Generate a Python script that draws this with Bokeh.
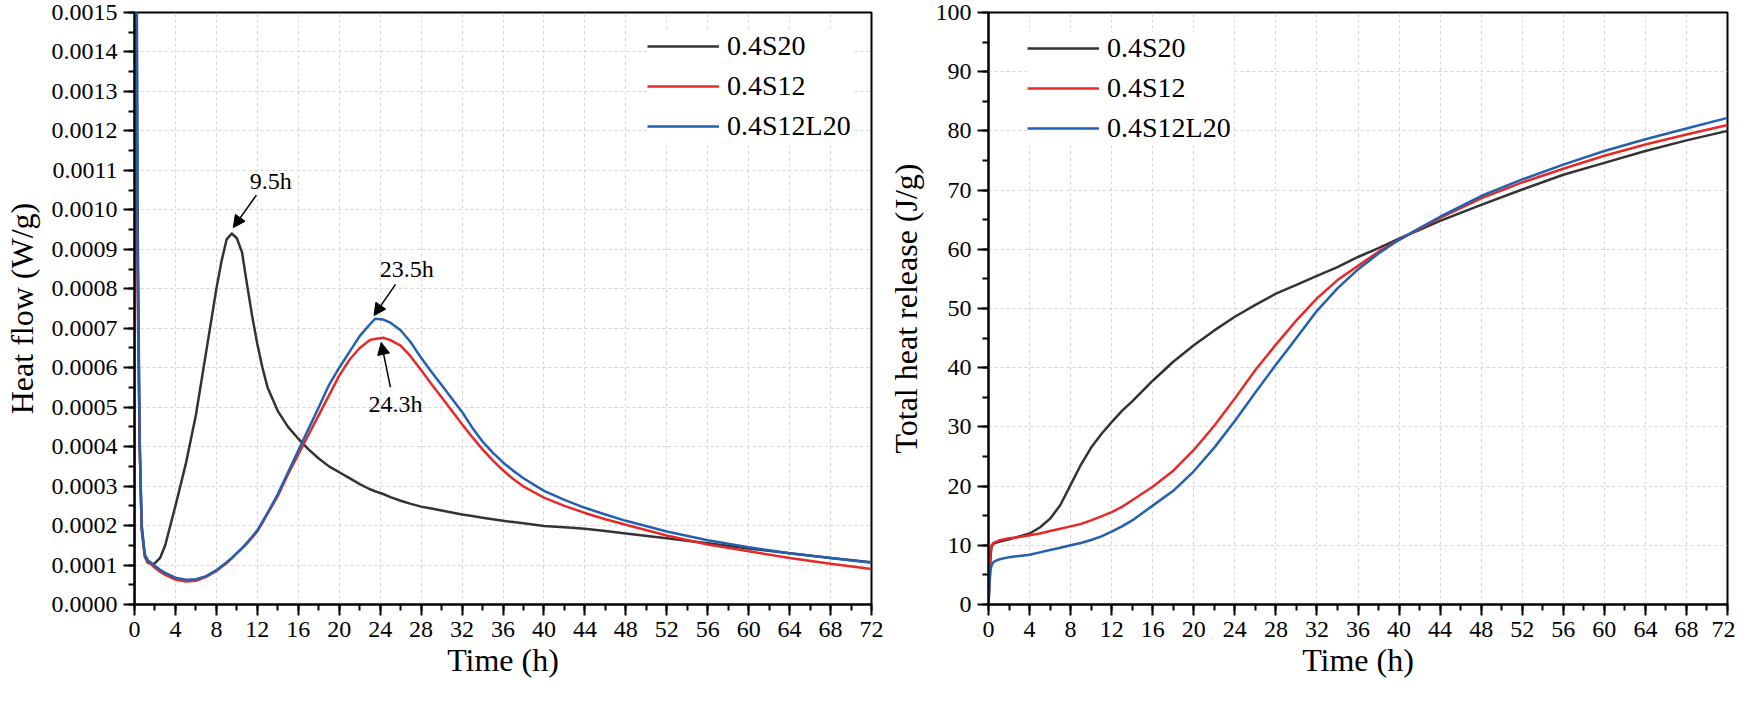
from bokeh.plotting import figure
from bokeh.layouts import row
from bokeh.models import (Range1d, SingleIntervalTicker, NumeralTickFormatter, Legend,
                          LegendItem, Arrow, NormalHead, Label)
from bokeh.embed import file_html
from bokeh.resources import INLINE

# ---------------- data ----------------
series_names = ["0.4S20", "0.4S12", "0.4S12L20"]
series_colors = ["#333333", "#e62a2a", "#2360b0"]

# Heat flow (W/g) vs time (h)
t_hf = [0, 0.05, 0.15, 0.3, 0.5, 0.7,
        1.0, 1.3, 1.9, 2.5, 3,
        4, 5, 6, 7, 8,
        8.5, 9, 9.5, 10, 10.5,
        11, 11.5, 12, 12.5, 13,
        14, 15, 16, 17, 18,
        19, 20, 21, 22, 23,
        23.5, 24.3, 25, 26, 27,
        28, 29, 30, 31, 32,
        33, 34, 35, 36, 37,
        38, 40, 42, 44, 46,
        48, 52, 56, 60, 64,
        68, 72]
hf_s20 = [0, 0.0030, 0.0021, 0.0010, 0.00042, 0.00019,
          0.000122, 0.000106, 0.000102, 0.000118, 0.00015,
          0.00025, 0.000355, 0.00048, 0.00064, 0.0008,
          0.00087, 0.000925, 0.00094, 0.000928, 0.000893,
          0.00081, 0.00073, 0.00066, 0.0006, 0.00055,
          0.00049, 0.00045, 0.00042, 0.000393, 0.00037,
          0.00035, 0.000335, 0.00032, 0.000305, 0.000292,
          0.000287, 0.00028, 0.000272, 0.000263, 0.000255,
          0.000248, 0.000243, 0.000238, 0.000233, 0.000228,
          0.000224, 0.00022, 0.000216, 0.000212, 0.000209,
          0.000206, 0.000199, 0.000196, 0.000192, 0.000186,
          0.00018, 0.000168, 0.000155, 0.000142, 0.00013,
          0.000118, 0.000107]
hf_s12 = [0, 0.0016, 0.00137, 0.0008, 0.0004, 0.0002,
          0.000125, 0.00011, 0.000095, 0.000083, 0.000075,
          0.000063, 0.000058, 0.00006, 0.00007, 0.000085,
          0.000095, 0.000105, 0.000117, 0.00013, 0.000142,
          0.000155, 0.00017, 0.000185, 0.000207, 0.00023,
          0.000275, 0.00033, 0.00038, 0.00043, 0.00048,
          0.00053, 0.00058, 0.00062, 0.00065, 0.00067,
          0.000673, 0.000676, 0.00067, 0.000656, 0.000628,
          0.000594, 0.000559, 0.000525, 0.000491, 0.000457,
          0.000424, 0.000393, 0.000365, 0.00034, 0.000318,
          0.000299, 0.000271, 0.00025, 0.000232, 0.000216,
          0.000202, 0.000175, 0.000152, 0.000135, 0.000118,
          0.000103, 0.00009]
hf_s12l20 = [0, 0.003, 0.0019, 0.0009, 0.00042, 0.0002,
             0.000128, 0.000112, 0.0001, 0.000088, 0.00008,
             0.000068, 0.000063, 0.000064, 0.000072, 0.000087,
             0.000097, 0.000107, 0.000118, 0.00013, 0.000143,
             0.000157, 0.000172, 0.000188, 0.00021, 0.000232,
             0.00028, 0.000335, 0.00039, 0.000445, 0.0005,
             0.000556, 0.0006, 0.00064, 0.00068, 0.00071,
             0.000724, 0.000722, 0.000714, 0.000695, 0.000664,
             0.000625, 0.00059, 0.000556, 0.000522, 0.000488,
             0.000448, 0.000413, 0.000385, 0.00036, 0.000339,
             0.00032, 0.000288, 0.000265, 0.000245, 0.000228,
             0.000212, 0.000185, 0.000163, 0.000145, 0.00013,
             0.000118, 0.000106]

# Total heat release (J/g) vs time (h)
t_thr = [0, 0.1, 0.2, 0.3, 0.5, 1, 2, 3, 4, 5, 6, 7, 8, 9, 10, 11, 12, 13, 14, 16, 18, 20, 22,
         24, 26, 28, 30, 32, 34, 36, 38, 40, 42, 44, 48, 52, 56, 60, 64, 68, 72]
thr_s20 = [0, 4, 8, 9.8, 10.3, 10.6, 11.0, 11.5, 12.0, 13.0, 14.5, 16.8, 20.2, 23.6, 26.5, 28.8,
           30.8, 32.7, 34.3, 37.8, 41.0, 43.8, 46.3, 48.6, 50.6, 52.5, 54.0, 55.5, 57.0, 58.7,
           60.2, 61.8, 63.3, 64.8, 67.5, 70.1, 72.6, 74.6, 76.6, 78.4, 80.0]
thr_s12 = [0, 5, 9, 10.0, 10.4, 10.8, 11.2, 11.4, 11.7, 12.0, 12.4, 12.8, 13.2, 13.6, 14.2, 14.9,
           15.6, 16.5, 17.6, 19.9, 22.6, 26.1, 30.2, 34.8, 39.6, 43.9, 48.0, 51.7, 54.8, 57.2,
           59.6, 61.6, 63.5, 65.3, 68.6, 71.3, 73.6, 75.8, 77.7, 79.4, 81.0]
thr_s12l20 = [0, 3.5, 5.8, 6.6, 7.2, 7.6, 8.0, 8.2, 8.4, 8.8, 9.2, 9.6, 10.0, 10.4, 10.9, 11.5,
              12.3, 13.2, 14.2, 16.7, 19.2, 22.5, 26.5, 31.0, 35.8, 40.5, 45.0, 49.6, 53.4, 56.6,
              59.3, 61.6, 63.6, 65.5, 69.0, 71.8, 74.3, 76.6, 78.6, 80.4, 82.2]

# peak annotations (label, x_text, y_text, x_from, y_from, x_to, y_to)
peak_notes = [
    ("9.5h", 13.3, 0.001074, 11.9, 0.001037, 9.65, 0.000955),
    ("23.5h", 26.6, 0.000851, 25.5, 0.000811, 23.4, 0.000732),
    ("24.3h", 25.5, 0.000508, 25.0, 0.000551, 24.1, 0.000664),
]

FONT = "Liberation Serif"


def style(p, y_interval, y_fmt=None):
    p.outline_line_color = "black"
    p.outline_line_width = 2
    p.outline_line_alpha = 1
    p.background_fill_color = "white"
    p.border_fill_color = "white"
    p.xaxis.ticker = SingleIntervalTicker(interval=4, num_minor_ticks=2)
    p.yaxis.ticker = SingleIntervalTicker(interval=y_interval, num_minor_ticks=2)
    if y_fmt:
        p.yaxis.formatter = NumeralTickFormatter(format=y_fmt)
    for ax in (p.xaxis[0], p.yaxis[0]):
        ax.axis_line_width = 2
        ax.axis_line_color = "black"
        ax.major_tick_line_width = 2
        ax.minor_tick_line_width = 2
        ax.major_tick_line_color = "black"
        ax.minor_tick_line_color = "black"
        ax.major_tick_out = 11
        ax.major_tick_in = 0
        ax.minor_tick_out = 6
        ax.minor_tick_in = 0
        ax.major_label_text_font = FONT
        ax.major_label_text_font_size = "24px"
        ax.major_label_text_color = "black"
        ax.major_label_standoff = 6
        ax.axis_label_text_font = FONT
        ax.axis_label_text_font_size = "32px"
        ax.axis_label_text_font_style = "normal"
        ax.axis_label_text_color = "black"
    p.xaxis[0].axis_label_standoff = 2
    p.yaxis[0].axis_label_standoff = 9
    for g in (p.xgrid[0], p.ygrid[0]):
        g.grid_line_color = "#d4d4d4"
        g.grid_line_dash = "3 3"
        g.grid_line_width = 1


def add_legend(p, renderers, loc):
    items = [LegendItem(label=n, renderers=[r]) for n, r in zip(series_names, renderers)]
    lg = Legend(items=items, location=loc, orientation="vertical")
    lg.label_text_font = FONT
    lg.label_text_font_size = "28px"
    lg.label_text_color = "black"
    lg.glyph_width = 72
    lg.glyph_height = 30
    lg.label_height = 30
    lg.label_standoff = 8
    lg.spacing = 8
    lg.padding = 4
    lg.margin = 0
    lg.border_line_color = None
    lg.background_fill_color = "white"
    lg.background_fill_alpha = 1
    p.add_layout(lg)


H = 689
TOP = 12
BOTTOM = 85
# ---------------- left: heat flow ----------------
p1 = figure(width=884, height=H, output_backend="svg", toolbar_location=None,
            x_range=Range1d(0, 72), y_range=Range1d(0, 0.0015),
            min_border_left=127, min_border_right=13, min_border_top=TOP,
            min_border_bottom=BOTTOM)
style(p1, 0.0001, "0.0000")
p1.xaxis.axis_label = "Time (h)"
p1.yaxis.axis_label = "Heat flow (W/g)"
r1 = []
for ys, c in zip([hf_s20, hf_s12, hf_s12l20], series_colors):
    r1.append(p1.line(t_hf, ys, line_color=c, line_width=2.5, line_join="round"))
add_legend(p1, r1, (513, 462))
for lab, xt, yt, xf, yf, xe, ye in peak_notes:
    p1.add_layout(Label(x=xt, y=yt, text=lab, text_align="center", text_baseline="middle",
                        text_font=FONT, text_font_size="24px", text_color="black"))
    p1.add_layout(Arrow(x_start=xf, y_start=yf, x_end=xe, y_end=ye, line_width=1.5,
                        line_color="black",
                        end=NormalHead(size=12, fill_color="black", line_color="black")))

# ---------------- right: total heat ----------------
p2 = figure(width=851, height=H, output_backend="svg", toolbar_location=None,
            x_range=Range1d(0, 72), y_range=Range1d(0, 100),
            min_border_left=103, min_border_right=8, min_border_top=TOP,
            min_border_bottom=BOTTOM)
style(p2, 10)
p2.xaxis.axis_label = "Time (h)"
p2.yaxis.axis_label = "Total heat release (J/g)"
r2 = []
for ys, c in zip([thr_s20, thr_s12, thr_s12l20], series_colors):
    r2.append(p2.line(t_thr, ys, line_color=c, line_width=2.5, line_join="round"))
add_legend(p2, r2, (39, 460))

layout = row(p1, p2)
open("out.html", "w").write(file_html(layout, INLINE))
